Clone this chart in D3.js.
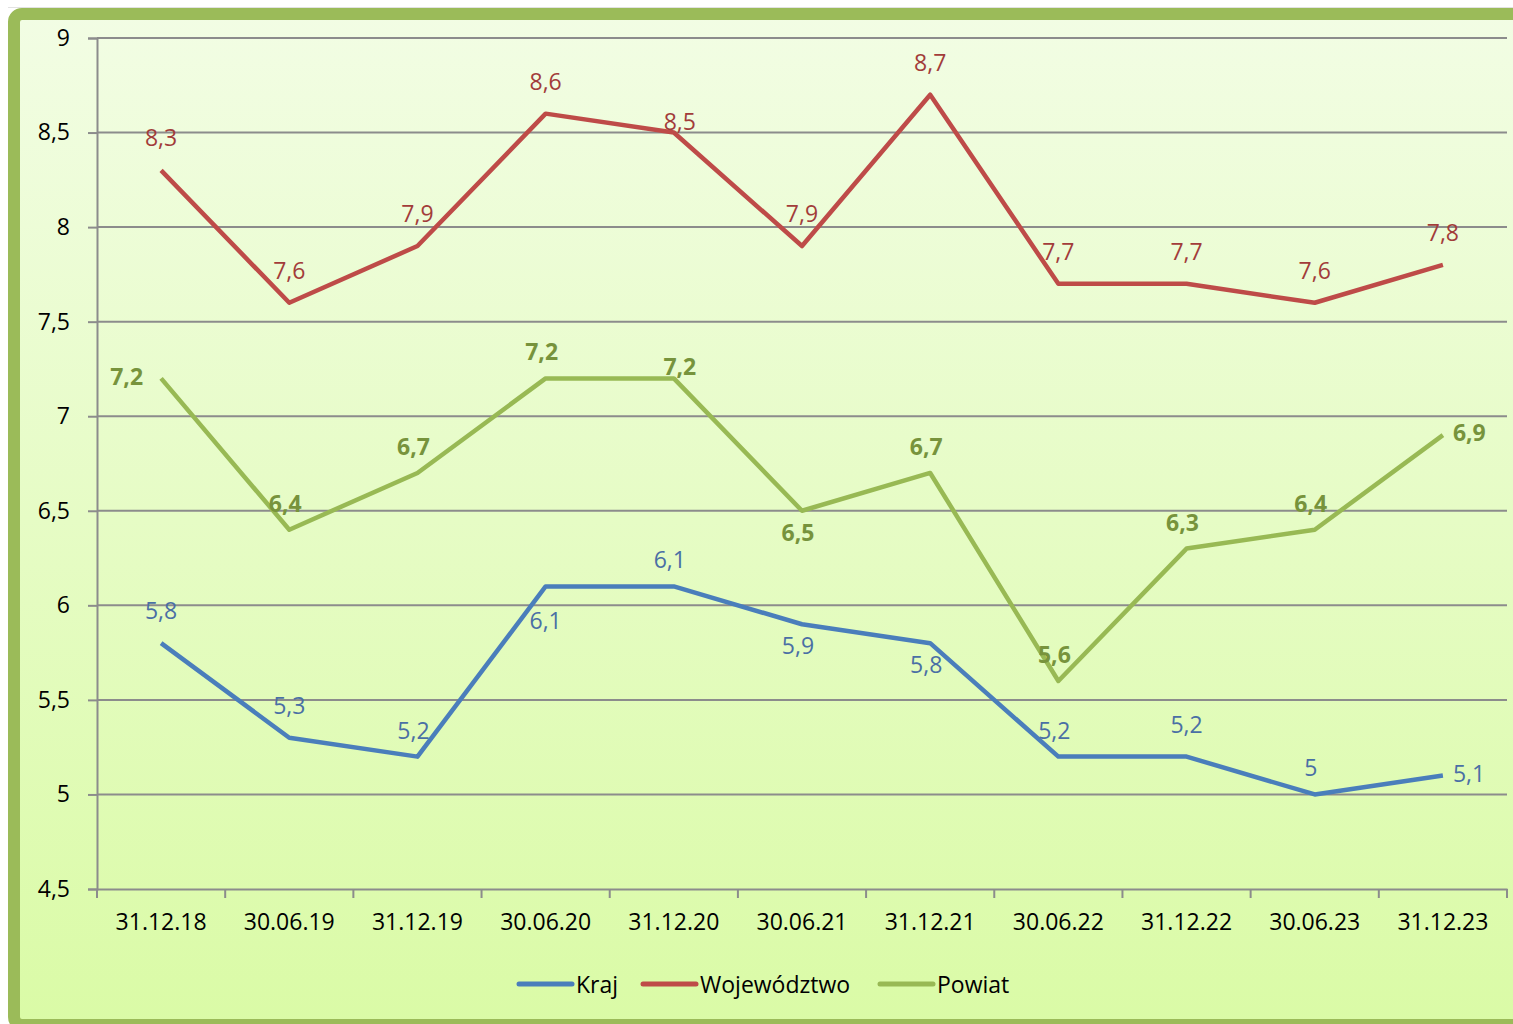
<!DOCTYPE html>
<html><head><meta charset="utf-8">
<script src="https://cdn.jsdelivr.net/npm/d3@7"></script>
<style>html,body{margin:0;padding:0;background:#fff;overflow:hidden}</style>
</head><body>
<svg id="c" width="1513" height="1024"></svg>
<script>
const categories = ["31.12.18","30.06.19","31.12.19","30.06.20","31.12.20","30.06.21","31.12.21","30.06.22","31.12.22","30.06.23","31.12.23"];
const seriesNames = ["Kraj","Województwo","Powiat"];
const kraj = [5.8,5.3,5.2,6.1,6.1,5.9,5.8,5.2,5.2,5.0,5.1];
const wojewodztwo = [8.3,7.6,7.9,8.6,8.5,7.9,8.7,7.7,7.7,7.6,7.8];
const powiat = [7.2,6.4,6.7,7.2,7.2,6.5,6.7,5.6,6.3,6.4,6.9];
const yTicks = [4.5,5,5.5,6,6.5,7,7.5,8,8.5,9];
// label placement keywords (t=top, b=bottom, l=left, r=right, n=near top, s=near bottom)
const krajLabelPos = ["t","t","n","b","n","s","s","n","t","n","r"];
const wojLabelPos = ["t","t","t","t","s0","t","t","t","t","t","t"];
const powLabelPos = ["l","n","n","n","s0","s","n","n","n","n","r"];

const series = [
  {name: seriesNames[0], values: kraj, pos: krajLabelPos, color: "#4a7ebb", label: "#4a6fa5", bold: false},
  {name: seriesNames[1], values: wojewodztwo, pos: wojLabelPos, color: "#be4b48", label: "#a23c3a", bold: false},
  {name: seriesNames[2], values: powiat, pos: powLabelPos, color: "#98b954", label: "#77933c", bold: true}
];

const svg = d3.select("#c");
const font = "'Open Sans', sans-serif";
const fs = 23;

const defs = svg.append("defs");
const grad = defs.append("linearGradient").attr("id","bg").attr("x1",0).attr("y1",0).attr("x2",0).attr("y2",1);
grad.append("stop").attr("offset","0%").attr("stop-color","#f2fde4");
grad.append("stop").attr("offset","100%").attr("stop-color","#dafba6");

svg.append("line").attr("x1",8).attr("x2",1513).attr("y1",7.5).attr("y2",7.5).attr("stroke","#e2e2e2").attr("stroke-width",1);
svg.append("rect").attr("x",14).attr("y",14).attr("width",1515).attr("height",1011)
  .attr("rx",8).attr("fill","url(#bg)").attr("stroke","#9bbb59").attr("stroke-width",12);

const x = d3.scaleBand().domain(categories).range([97,1507]);
const y = d3.scaleLinear().domain([4.5,9]).range([889,38]);

// gridlines
svg.append("g").selectAll("line").data(yTicks.filter(t=>t>4.5)).join("line")
  .attr("x1",97).attr("x2",1507).attr("y1",d=>y(d)).attr("y2",d=>y(d))
  .attr("stroke","#8c8c8c").attr("stroke-width",2);

// y axis
const yAxis = svg.append("g").attr("transform","translate(97,0)")
  .call(d3.axisLeft(y).tickValues(yTicks).tickSize(9).tickPadding(18).tickFormat(d=>String(d).replace(".",",")));
yAxis.select(".domain").attr("stroke","#8c8c8c").attr("stroke-width",2);
yAxis.selectAll(".tick line").attr("stroke","#8c8c8c").attr("stroke-width",2);
yAxis.selectAll(".tick text").attr("font-family",font).attr("font-size",fs).attr("fill","#000");

// x axis
const xAxis = svg.append("g").attr("transform","translate(0,889)")
  .call(d3.axisBottom(x).tickSize(0).tickPadding(25));
xAxis.select(".domain").attr("stroke","#8c8c8c").attr("stroke-width",2);
xAxis.selectAll(".tick text").attr("font-family",font).attr("font-size",fs).attr("fill","#000");
svg.append("g").selectAll("line").data(categories.concat(["__end"])).join("line")
  .attr("x1",(d,i)=> i<categories.length ? x(d) : x.range()[1])
  .attr("x2",(d,i)=> i<categories.length ? x(d) : x.range()[1])
  .attr("y1",889).attr("y2",898).attr("stroke","#8c8c8c").attr("stroke-width",2);

const cx = d => x(d) + x.bandwidth()/2;
const line = d3.line().x((d,i)=>cx(categories[i])).y(d=>y(d));

series.forEach(s => {
  svg.append("path").datum(s.values).attr("d",line).attr("fill","none")
    .attr("stroke",s.color).attr("stroke-width",4.5).attr("stroke-linejoin","round");
});

const dyMap = {t:-33, n:-27, b:34, s:21, s0:-12, l:-2, r:-3};
const dxMap = {t:0, n:-4, b:0, s:-4, s0:6, l:-18, r:10};
series.forEach(s => {
  svg.append("g").selectAll("text").data(s.values).join("text")
    .attr("x",(d,i)=>cx(categories[i]) + dxMap[s.pos[i]])
    .attr("y",(d,i)=>y(d) + dyMap[s.pos[i]])
    .attr("dominant-baseline","central")
    .attr("text-anchor",(d,i)=>s.pos[i]==="l"?"end":s.pos[i]==="r"?"start":"middle")
    .attr("font-family",font).attr("font-size",fs).attr("font-weight",s.bold?"bold":"normal")
    .attr("fill",s.label)
    .text(d=>String(d).replace(".",","));
});

// legend
const legendX = [519, 643, 880];
const lg = svg.append("g");
series.forEach((s,i) => {
  lg.append("line").attr("x1",legendX[i]).attr("x2",legendX[i]+53).attr("y1",984).attr("y2",984)
    .attr("stroke",s.color).attr("stroke-width",5).attr("stroke-linecap","round");
  lg.append("text").attr("x",legendX[i]+57).attr("y",984).attr("dominant-baseline","central")
    .attr("font-family",font).attr("font-size",fs).attr("fill","#000").text(s.name);
});
</script>
</body></html>
